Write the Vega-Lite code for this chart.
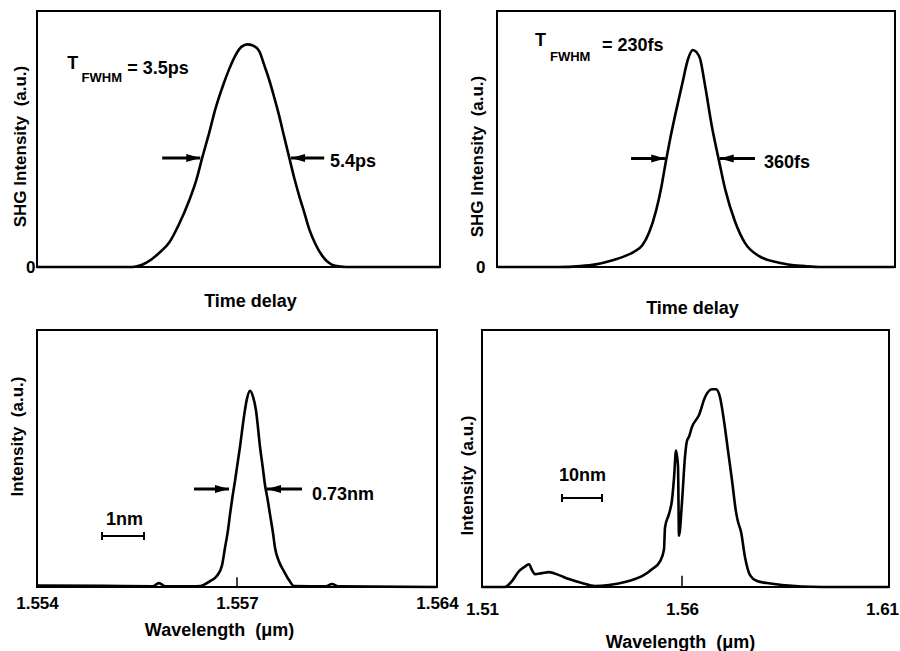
{
  "$schema": "https://vega.github.io/schema/vega-lite/v6.json",
  "background": "white",
  "padding": {"left": 6, "top": 10, "right": 0, "bottom": 0},
  "config": {
    "view": {"stroke": "black", "strokeWidth": 2},
    "axis": {"domain": false, "ticks": false, "grid": false, "labelFont": "Liberation Sans", "labelFontWeight": "bold", "labelFontSize": 17, "labelColor": "black", "titleFont": "Liberation Sans", "titleFontWeight": "bold", "titleFontSize": 17, "titleColor": "black", "labelFlush": false, "labelOverlap": false, "labelBound": false},
    "axisX": {"titleFontSize": 18}
  },
  "datasets": {
    "tl_curve": [
      {"t": -13.2, "I": 0}, {"t": -7.2, "I": 0}, {"t": -6.6, "I": 0.01}, {"t": -6.0, "I": 0.035}, {"t": -5.5, "I": 0.065}, {"t": -4.9, "I": 0.11}, {"t": -4.3, "I": 0.19}, {"t": -3.64, "I": 0.30}, {"t": -3.2, "I": 0.39}, {"t": -2.83, "I": 0.49}, {"t": -2.4, "I": 0.60}, {"t": -2.0, "I": 0.71}, {"t": -1.5, "I": 0.82}, {"t": -1.13, "I": 0.89}, {"t": -0.75, "I": 0.95}, {"t": -0.35, "I": 0.99}, {"t": 0, "I": 1.0}, {"t": 0.35, "I": 0.995}, {"t": 0.75, "I": 0.97}, {"t": 1.05, "I": 0.91}, {"t": 1.38, "I": 0.84}, {"t": 1.7, "I": 0.76}, {"t": 2.0, "I": 0.68}, {"t": 2.3, "I": 0.59}, {"t": 2.64, "I": 0.49}, {"t": 2.95, "I": 0.40}, {"t": 3.26, "I": 0.32}, {"t": 3.6, "I": 0.24}, {"t": 3.89, "I": 0.17}, {"t": 4.3, "I": 0.10}, {"t": 4.71, "I": 0.05}, {"t": 5.1, "I": 0.02}, {"t": 5.52, "I": 0.005}, {"t": 6.2, "I": 0}, {"t": 12.1, "I": 0}
    ],
    "tl_arrows": [
      {"t": -2.95, "tEnd": -5.34, "I": 0.49, "dir": "right"},
      {"t": 2.75, "tEnd": 4.83, "I": 0.49, "dir": "left"}
    ],
    "tl_text": [
      {"t": -11.3, "I": 0.91, "label": "T", "role": "main"},
      {"t": -10.4, "I": 0.85, "label": "FWHM", "role": "sub"},
      {"t": -7.53, "I": 0.89, "label": "= 3.5ps", "role": "main"},
      {"t": 5.2, "I": 0.47, "label": "5.4ps", "role": "main"}
    ],
    "tr_curve": [
      {"t": -1297, "I": 0}, {"t": -900, "I": 0}, {"t": -750, "I": 0.004}, {"t": -650, "I": 0.012}, {"t": -545, "I": 0.03}, {"t": -460, "I": 0.05}, {"t": -400, "I": 0.07}, {"t": -345, "I": 0.10}, {"t": -300, "I": 0.16}, {"t": -255, "I": 0.26}, {"t": -220, "I": 0.37}, {"t": -190, "I": 0.49}, {"t": -160, "I": 0.60}, {"t": -130, "I": 0.70}, {"t": -85, "I": 0.84}, {"t": -45, "I": 0.96}, {"t": -15, "I": 1.0}, {"t": 10, "I": 0.99}, {"t": 33, "I": 0.96}, {"t": 65, "I": 0.84}, {"t": 110, "I": 0.65}, {"t": 157, "I": 0.49}, {"t": 197, "I": 0.36}, {"t": 262, "I": 0.21}, {"t": 328, "I": 0.11}, {"t": 420, "I": 0.05}, {"t": 550, "I": 0.02}, {"t": 700, "I": 0.005}, {"t": 812, "I": 0}, {"t": 1310, "I": 0}
    ],
    "tr_arrows": [
      {"t": -195, "tEnd": -419, "I": 0.5, "dir": "right"},
      {"t": 162, "tEnd": 393, "I": 0.5, "dir": "left"}
    ],
    "tr_text": [
      {"t": -1048, "I": 1.04, "label": "T", "role": "main"},
      {"t": -950, "I": 0.97, "label": "FWHM", "role": "sub"},
      {"t": -609, "I": 1.02, "label": "= 230fs", "role": "main"},
      {"t": 452, "I": 0.48, "label": "360fs", "role": "main"}
    ],
    "bl_curve": [
      {"t": 1.554, "I": 0.008}, {"t": 1.555, "I": 0.006}, {"t": 1.55574, "I": 0.004}, {"t": 1.55583, "I": 0.02}, {"t": 1.55592, "I": 0.004}, {"t": 1.556325, "I": 0.004}, {"t": 1.556445, "I": 0.005}, {"t": 1.556595, "I": 0.03}, {"t": 1.5567, "I": 0.057}, {"t": 1.556775, "I": 0.11}, {"t": 1.55682, "I": 0.20}, {"t": 1.556865, "I": 0.29}, {"t": 1.556895, "I": 0.37}, {"t": 1.5569325, "I": 0.46}, {"t": 1.55697, "I": 0.54}, {"t": 1.557105, "I": 0.715}, {"t": 1.557245, "I": 0.87}, {"t": 1.55735, "I": 0.96}, {"t": 1.557455, "I": 1.0}, {"t": 1.55756, "I": 0.97}, {"t": 1.557665, "I": 0.90}, {"t": 1.557805, "I": 0.715}, {"t": 1.55791, "I": 0.60}, {"t": 1.55798, "I": 0.52}, {"t": 1.5580675, "I": 0.45}, {"t": 1.558155, "I": 0.37}, {"t": 1.55826, "I": 0.275}, {"t": 1.55833, "I": 0.20}, {"t": 1.55847, "I": 0.13}, {"t": 1.558645, "I": 0.08}, {"t": 1.55882, "I": 0.036}, {"t": 1.558995, "I": 0.005}, {"t": 1.560115, "I": 0.003}, {"t": 1.560325, "I": 0.015}, {"t": 1.560535, "I": 0.003}, {"t": 1.564, "I": 0}
    ],
    "bl_arrows": [
      {"t": 1.55688, "tEnd": 1.556355, "I": 0.5, "dir": "right"},
      {"t": 1.55805, "tEnd": 1.559275, "I": 0.5, "dir": "left"}
    ],
    "bl_text": [
      {"t": 1.559625, "I": 0.47, "label": "0.73nm", "role": "main"},
      {"t": 1.555035, "I": 0.34, "label": "1nm", "role": "main"}
    ],
    "bl_bar": [{"t": 1.554975, "tEnd": 1.555605, "I": 0.26}],
    "bl_caps": [{"t": 1.554975, "I": 0.26}, {"t": 1.555605, "I": 0.26}],
    "bl_tick": [{"t": 1.557, "I": 0, "I2": 0.05}],
    "br_curve": [
      {"t": 1.51, "I": 0}, {"t": 1.51575, "I": 0}, {"t": 1.5175, "I": 0.03}, {"t": 1.51925, "I": 0.08}, {"t": 1.5205, "I": 0.10}, {"t": 1.52175, "I": 0.115}, {"t": 1.5225, "I": 0.085}, {"t": 1.52325, "I": 0.065}, {"t": 1.525, "I": 0.07}, {"t": 1.52675, "I": 0.075}, {"t": 1.52925, "I": 0.06}, {"t": 1.53175, "I": 0.04}, {"t": 1.535, "I": 0.02}, {"t": 1.53825, "I": 0.005}, {"t": 1.54175, "I": 0.01}, {"t": 1.54575, "I": 0.025}, {"t": 1.54825, "I": 0.04}, {"t": 1.55, "I": 0.055}, {"t": 1.5525, "I": 0.09}, {"t": 1.5545, "I": 0.13}, {"t": 1.5555, "I": 0.19}, {"t": 1.55575, "I": 0.30}, {"t": 1.55675, "I": 0.37}, {"t": 1.5575, "I": 0.44}, {"t": 1.558, "I": 0.55}, {"t": 1.5585, "I": 0.69}, {"t": 1.559, "I": 0.61}, {"t": 1.55925, "I": 0.26}, {"t": 1.56, "I": 0.43}, {"t": 1.56075, "I": 0.66}, {"t": 1.56125, "I": 0.74}, {"t": 1.56175, "I": 0.76}, {"t": 1.5625, "I": 0.81}, {"t": 1.56425, "I": 0.87}, {"t": 1.56575, "I": 0.96}, {"t": 1.5675, "I": 1.0}, {"t": 1.5685, "I": 1.0}, {"t": 1.5695, "I": 0.96}, {"t": 1.5705, "I": 0.84}, {"t": 1.5715, "I": 0.69}, {"t": 1.5725, "I": 0.54}, {"t": 1.5735, "I": 0.38}, {"t": 1.574, "I": 0.33}, {"t": 1.57475, "I": 0.28}, {"t": 1.57575, "I": 0.15}, {"t": 1.577, "I": 0.06}, {"t": 1.57875, "I": 0.03}, {"t": 1.58125, "I": 0.02}, {"t": 1.585, "I": 0.01}, {"t": 1.595, "I": 0}, {"t": 1.61175, "I": 0}
    ],
    "br_text": [{"t": 1.52925, "I": 0.56, "label": "10nm", "role": "main"}],
    "br_bar": [{"t": 1.53, "tEnd": 1.54, "I": 0.45}],
    "br_caps": [{"t": 1.53, "I": 0.45}, {"t": 1.54, "I": 0.45}],
    "br_tick": [{"t": 1.56, "I": 0, "I2": 0.057}]
  },
  "bounds": "full",
  "spacing": 11,
  "vconcat": [
    {
      "bounds": "flush",
      "spacing": 57,
      "hconcat": [
        {
          "width": 403, "height": 256,
          "encoding": {
            "x": {"field": "t", "type": "quantitative", "scale": {"domain": [-13.2, 12.1], "nice": false, "zero": false}, "axis": {"labels": false, "title": "Time delay", "titleX": 213, "titleY": 34, "titleAlign": "center", "titleBaseline": "middle"}},
            "y": {"field": "I", "type": "quantitative", "scale": {"domain": [0, 1.15], "nice": false}, "axis": {"values": [0], "labelPadding": 2, "title": "SHG Intensity \u00a0(a.u.)", "titleX": -17, "titleY": 135, "titleAngle": 270, "titleAlign": "center", "titleBaseline": "middle"}}
          },
          "layer": [
            {"data": {"name": "tl_curve"}, "mark": {"type": "line", "color": "black", "strokeWidth": 2.6, "interpolate": "monotone"}, "encoding": {}},
            {"data": {"name": "tl_arrows"}, "mark": {"type": "rule", "color": "black", "strokeWidth": 3}, "encoding": {"x2": {"field": "tEnd"}}},
            {"data": {"name": "tl_arrows"}, "mark": {"type": "point", "filled": true, "color": "black", "opacity": 1, "size": 196, "strokeWidth": 0}, "encoding": {"shape": {"field": "dir", "type": "nominal", "scale": {"domain": ["right", "left"], "range": ["M0,0L-2,-0.57L-2,0.57Z", "M0,0L2,-0.57L2,0.57Z"]}, "legend": null}}},
            {"data": {"name": "tl_text"}, "mark": {"type": "text", "align": "left", "baseline": "middle", "font": "Liberation Sans", "fontWeight": "bold", "color": "black"}, "encoding": {"text": {"field": "label"}, "size": {"field": "role", "type": "nominal", "scale": {"domain": ["main", "sub"], "range": [18, 13]}, "legend": null}}}
          ]
        },
        {
          "width": 398, "height": 256,
          "encoding": {
            "x": {"field": "t", "type": "quantitative", "scale": {"domain": [-1297, 1310], "nice": false, "zero": false}, "axis": {"labels": false, "title": "Time delay", "titleX": 195, "titleY": 41, "titleAlign": "center", "titleBaseline": "middle"}},
            "y": {"field": "I", "type": "quantitative", "scale": {"domain": [0, 1.18], "nice": false}, "axis": {"values": [0], "labelPadding": 12, "title": "SHG Intensity \u00a0(a.u.)", "titleX": -20, "titleY": 145, "titleAngle": 270, "titleAlign": "center", "titleBaseline": "middle"}}
          },
          "layer": [
            {"data": {"name": "tr_curve"}, "mark": {"type": "line", "color": "black", "strokeWidth": 2.6, "interpolate": "monotone"}, "encoding": {}},
            {"data": {"name": "tr_arrows"}, "mark": {"type": "rule", "color": "black", "strokeWidth": 3}, "encoding": {"x2": {"field": "tEnd"}}},
            {"data": {"name": "tr_arrows"}, "mark": {"type": "point", "filled": true, "color": "black", "opacity": 1, "size": 196, "strokeWidth": 0}, "encoding": {"shape": {"field": "dir", "type": "nominal", "scale": {"domain": ["right", "left"], "range": ["M0,0L-2,-0.57L-2,0.57Z", "M0,0L2,-0.57L2,0.57Z"]}, "legend": null}}},
            {"data": {"name": "tr_text"}, "mark": {"type": "text", "align": "left", "baseline": "middle", "font": "Liberation Sans", "fontWeight": "bold", "color": "black"}, "encoding": {"text": {"field": "label"}, "size": {"field": "role", "type": "nominal", "scale": {"domain": ["main", "sub"], "range": [18, 13]}, "legend": null}}}
          ]
        }
      ]
    },
    {
      "bounds": "flush",
      "spacing": 45,
      "hconcat": [
        {
          "width": 400, "height": 257,
          "encoding": {
            "x": {"field": "t", "type": "quantitative", "scale": {"domain": [1.554, 1.557, 1.564], "range": [0, 200, 400], "nice": false, "zero": false}, "axis": {"values": [1.554, 1.557, 1.564], "format": ".3f", "labelPadding": 8, "title": "Wavelength \u00a0(\u03bcm)", "titleX": 182, "titleY": 43, "titleAlign": "center", "titleBaseline": "middle"}},
            "y": {"field": "I", "type": "quantitative", "scale": {"domain": [0, 1.31], "nice": false}, "axis": {"labels": false, "title": "Intensity \u00a0(a.u.)", "titleX": -20, "titleY": 106, "titleAngle": 270, "titleAlign": "center", "titleBaseline": "middle"}}
          },
          "layer": [
            {"data": {"name": "bl_curve"}, "mark": {"type": "line", "color": "black", "strokeWidth": 2.6, "interpolate": "monotone"}, "encoding": {}},
            {"data": {"name": "bl_tick"}, "mark": {"type": "rule", "color": "black", "strokeWidth": 1.5}, "encoding": {"y2": {"field": "I2"}}},
            {"data": {"name": "bl_arrows"}, "mark": {"type": "rule", "color": "black", "strokeWidth": 3}, "encoding": {"x2": {"field": "tEnd"}}},
            {"data": {"name": "bl_arrows"}, "mark": {"type": "point", "filled": true, "color": "black", "opacity": 1, "size": 196, "strokeWidth": 0}, "encoding": {"shape": {"field": "dir", "type": "nominal", "scale": {"domain": ["right", "left"], "range": ["M0,0L-2,-0.57L-2,0.57Z", "M0,0L2,-0.57L2,0.57Z"]}, "legend": null}}},
            {"data": {"name": "bl_bar"}, "mark": {"type": "rule", "color": "black", "strokeWidth": 2}, "encoding": {"x2": {"field": "tEnd"}}},
            {"data": {"name": "bl_caps"}, "mark": {"type": "point", "filled": false, "color": "black", "opacity": 1, "size": 64, "strokeWidth": 2, "shape": "M0,-1L0,1"}, "encoding": {}},
            {"data": {"name": "bl_text"}, "mark": {"type": "text", "align": "left", "baseline": "middle", "font": "Liberation Sans", "fontWeight": "bold", "color": "black"}, "encoding": {"text": {"field": "label"}, "size": {"field": "role", "type": "nominal", "scale": {"domain": ["main", "sub"], "range": [18, 13]}, "legend": null}}}
          ]
        },
        {
          "width": 407, "height": 257,
          "encoding": {
            "x": {"field": "t", "type": "quantitative", "scale": {"domain": [1.51, 1.61175], "nice": false, "zero": false}, "axis": {"values": [1.51, 1.56, 1.61], "format": ".2f", "labelPadding": 14, "title": "Wavelength \u00a0(\u03bcm)", "titleX": 198, "titleY": 55, "titleAlign": "center", "titleBaseline": "middle"}},
            "y": {"field": "I", "type": "quantitative", "scale": {"domain": [0, 1.30], "nice": false}, "axis": {"labels": false, "title": "Intensity \u00a0(a.u.)", "titleX": -15, "titleY": 145, "titleAngle": 270, "titleAlign": "center", "titleBaseline": "middle"}}
          },
          "layer": [
            {"data": {"name": "br_curve"}, "mark": {"type": "line", "color": "black", "strokeWidth": 2.6, "interpolate": "monotone"}, "encoding": {}},
            {"data": {"name": "br_tick"}, "mark": {"type": "rule", "color": "black", "strokeWidth": 1.5}, "encoding": {"y2": {"field": "I2"}}},
            {"data": {"name": "br_bar"}, "mark": {"type": "rule", "color": "black", "strokeWidth": 2}, "encoding": {"x2": {"field": "tEnd"}}},
            {"data": {"name": "br_caps"}, "mark": {"type": "point", "filled": false, "color": "black", "opacity": 1, "size": 64, "strokeWidth": 2, "shape": "M0,-1L0,1"}, "encoding": {}},
            {"data": {"name": "br_text"}, "mark": {"type": "text", "align": "left", "baseline": "middle", "font": "Liberation Sans", "fontWeight": "bold", "color": "black"}, "encoding": {"text": {"field": "label"}, "size": {"field": "role", "type": "nominal", "scale": {"domain": ["main", "sub"], "range": [18, 13]}, "legend": null}}}
          ]
        }
      ]
    }
  ]
}
